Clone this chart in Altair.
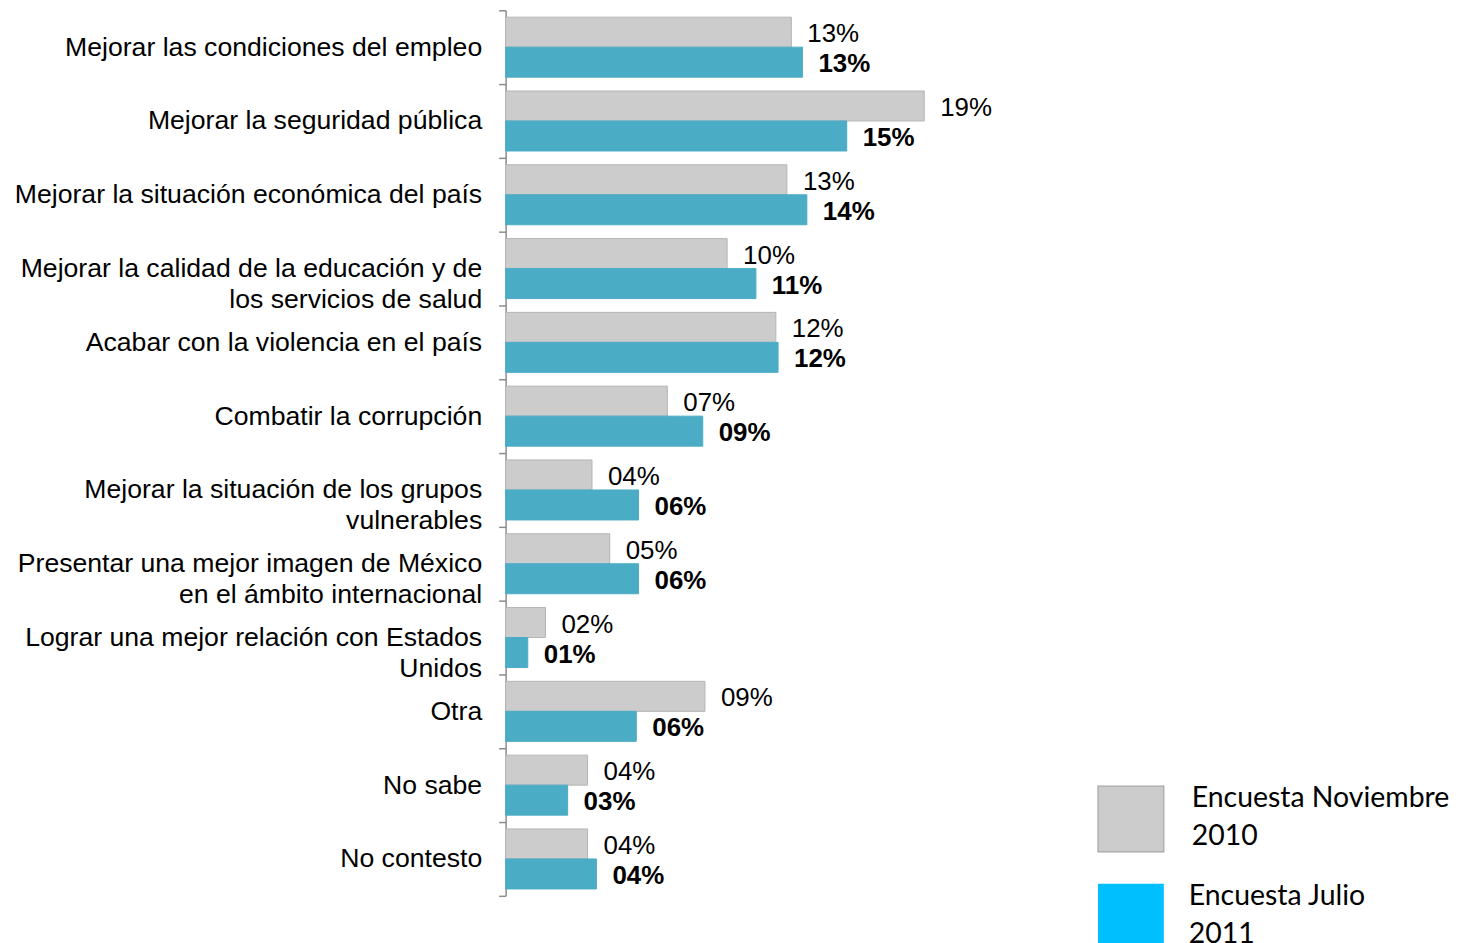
import altair as alt
import pandas as pd

categories = [
    "Mejorar las condiciones del empleo",
    "Mejorar la seguridad pública",
    "Mejorar la situación económica del país",
    "Mejorar la calidad de la educación y  de\nlos servicios de salud",
    "Acabar con la violencia en el país",
    "Combatir la corrupción",
    "Mejorar la situación de los grupos\nvulnerables",
    "Presentar una mejor imagen de México\nen el ámbito internacional",
    "Lograr una mejor relación con Estados\nUnidos",
    "Otra",
    "No sabe",
    "No contesto",
]
series = ["Encuesta Noviembre\n2010", "Encuesta Julio\n2011"]
nov_2010 = [12.9, 18.9, 12.7, 10.0, 12.2, 7.3, 3.9, 4.7, 1.8, 9.0, 3.7, 3.7]
jul_2011 = [13.4, 15.4, 13.6, 11.3, 12.3, 8.9, 6.0, 6.0, 1.0, 5.9, 2.8, 4.1]
nov_labels = ["13%", "19%", "13%", "10%", "12%", "07%", "04%", "05%", "02%", "09%", "04%", "04%"]
jul_labels = ["13%", "15%", "14%", "11%", "12%", "09%", "06%", "06%", "01%", "06%", "03%", "04%"]

bar_colors = ["#CCCCCC", "#4BACC6"]
legend_colors = ["#CCCCCC", "#00BFFF"]

rows = []
for i, c in enumerate(categories):
    rows.append({"cat": c, "series": series[0], "value": nov_2010[i], "label": nov_labels[i], "order": 0})
    rows.append({"cat": c, "series": series[1], "value": jul_2011[i], "label": jul_labels[i], "order": 1})
df = pd.DataFrame(rows)

y_enc = alt.Y(
    "cat:N",
    sort=categories,
    scale=alt.Scale(paddingInner=0, paddingOuter=0),
    axis=alt.Axis(
        title=None,
        labelFont="Liberation Sans",
        labelFontSize=26.7,
        labelColor="#000000",
        labelLimit=0,
        labelPadding=17,
        labelExpr="split(datum.label, '\\n')",
        labelLineHeight=31,
        tickBand="extent",
        tickSize=7,
        tickColor="#8C8C8C",
        domainColor="#8C8C8C",
        tickWidth=1.5,
        domainWidth=1.5,
        grid=False,
    ),
)
yoff = alt.YOffset("series:N", sort=series, scale=alt.Scale(paddingInner=0, paddingOuter=0.23))
x_enc = alt.X("value:Q", scale=alt.Scale(domain=[0, 38], nice=False, zero=True), axis=None)

bars = alt.Chart(df).mark_bar(strokeWidth=1).encode(
    y=y_enc,
    yOffset=yoff,
    x=x_enc,
    color=alt.Color("series:N", scale=alt.Scale(domain=series, range=bar_colors), legend=None),
    stroke=alt.condition(alt.datum.order == 0, alt.value("#B5B5B5"), alt.value("#4BACC6")),
)

text_nov = alt.Chart(df).transform_filter(alt.datum.order == 0).mark_text(
    align="left", baseline="middle", dx=16, dy=2, font="Liberation Sans", fontSize=26, color="#000000"
).encode(y=y_enc, yOffset=yoff, x=x_enc, text="label:N")

text_jul = alt.Chart(df).transform_filter(alt.datum.order == 1).mark_text(
    align="left", baseline="middle", dx=16, dy=2, font="Liberation Sans", fontSize=26,
    fontWeight="bold", color="#000000"
).encode(y=y_enc, yOffset=yoff, x=x_enc, text="label:N")

# legend (drawn as its own small layers, placed in the empty lower-right area)
leg_nov = pd.DataFrame({"name": [series[0]]})
leg_jul = pd.DataFrame({"name": [series[1]]})

sw_nov = alt.Chart(leg_nov).mark_square(
    size=4356, color=legend_colors[0], stroke="#A6A6A6", strokeWidth=1.2, opacity=1
).encode(x=alt.value(627), y=alt.value(811))
sw_jul = alt.Chart(leg_jul).mark_square(
    size=4356, color=legend_colors[1], opacity=1
).encode(x=alt.value(627), y=alt.value(909))

lt_nov = alt.Chart(leg_nov).mark_text(
    align="left", baseline="middle", font="Lato", fontSize=28.5, lineBreak="\n", lineHeight=38, color="#000000"
).encode(x=alt.value(688), y=alt.value(790), text="name:N")
lt_jul = alt.Chart(leg_jul).mark_text(
    align="left", baseline="middle", font="Lato", fontSize=28.5, lineBreak="\n", lineHeight=38, color="#000000"
).encode(x=alt.value(685), y=alt.value(888), text="name:N")

chart = alt.layer(bars, text_nov, text_jul, sw_nov, sw_jul, lt_nov, lt_jul).properties(
    width=844, height=888,
    autosize=alt.AutoSizeParams(type="none"),
    padding={"left": 499, "top": 1, "right": 108, "bottom": 46},
).configure_view(stroke=None)

chart.save("out.html", embed_options={"renderer": "svg", "actions": False})
